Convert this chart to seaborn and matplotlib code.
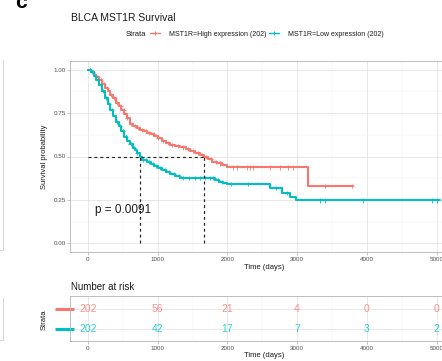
import numpy as np
import pandas as pd
import matplotlib
matplotlib.use("Agg")
import matplotlib.pyplot as plt
from matplotlib.lines import Line2D
import matplotlib.transforms as mtransforms
import seaborn as sns

# ---------------- data ----------------
groups = ["MST1R=High expression", "MST1R=Low expression"]
colors = ["#F8766D", "#00BFC4"]

high_time = [0, 40, 80, 120, 160, 200, 240, 280, 320, 360, 400, 440, 480, 520, 560,
             600, 650, 700, 750, 800, 850, 900, 950, 1000, 1060, 1120, 1180, 1250, 1320,
             1400, 1470, 1540, 1600, 1660, 1720, 1780, 1850, 1920, 1990, 3160, 3800]
high_surv = [1.0, 0.985, 0.97, 0.955, 0.94, 0.915, 0.895, 0.875, 0.855, 0.835, 0.81, 0.79,
             0.765, 0.745, 0.72, 0.688, 0.674, 0.665, 0.655, 0.645, 0.637, 0.628, 0.62, 0.605,
             0.59, 0.578, 0.568, 0.56, 0.552, 0.543, 0.532, 0.52, 0.51, 0.498, 0.483, 0.47,
             0.46, 0.45, 0.437, 0.33, 0.33]
high_censor = [30, 60, 100, 140, 190, 230, 270, 330, 380, 420, 470, 510, 560, 620, 680, 720,
               780, 830, 880, 940, 1010, 1080, 1150, 1210, 1290, 1360, 1440, 1510, 1580, 1640,
               1700, 1760, 1830, 1900, 2080, 2140, 2280, 2320, 2370, 2610, 2755, 2870, 2940,
               3400, 3790]

low_time = [0, 40, 80, 120, 160, 200, 240, 280, 320, 360, 400, 440, 480, 520, 560, 600, 640,
            680, 700, 740, 780, 850, 900, 950, 1000, 1060, 1120, 1180, 1250, 1320, 1820, 1880,
            1940, 2000, 2610, 2780, 2900, 2980, 5050]
low_surv = [1.0, 0.985, 0.965, 0.94, 0.91, 0.875, 0.835, 0.80, 0.77, 0.735, 0.70, 0.675,
            0.645, 0.615, 0.59, 0.57, 0.55, 0.535, 0.52, 0.495, 0.482, 0.467, 0.457, 0.445,
            0.432, 0.42, 0.41, 0.40, 0.39, 0.378, 0.365, 0.355, 0.345, 0.34, 0.318, 0.29,
            0.265, 0.247, 0.247]
low_censor = [30, 70, 110, 150, 210, 260, 300, 350, 420, 460, 500, 540, 610, 660, 700, 790,
              830, 880, 930, 980, 1040, 1100, 1160, 1230, 1300, 1370, 1450, 1530, 1600, 1680,
              1750, 1800, 1860, 1920, 2050, 2300, 2700, 2850, 3330, 3400, 3950, 4935, 5010]

risk_times = [0, 1000, 2000, 3000, 4000, 5000]
risk_high = [202, 56, 21, 4, 0, 0]
risk_low = [202, 42, 17, 7, 3, 2]

p_text = "p = 0.0091"
title = "BLCA MST1R Survival"

# ---------------- frames ----------------
curves = pd.concat([
    pd.DataFrame({"time": high_time, "surv": high_surv, "group": groups[0]}),
    pd.DataFrame({"time": low_time, "surv": low_surv, "group": groups[1]}),
], ignore_index=True)


def step_lookup(times, surv, pts):
    idx = np.searchsorted(np.asarray(times), np.asarray(pts), side="right") - 1
    return np.asarray(surv)[idx]


cens = pd.concat([
    pd.DataFrame({"time": high_censor, "surv": step_lookup(high_time, high_surv, high_censor),
                  "group": groups[0]}),
    pd.DataFrame({"time": low_censor, "surv": step_lookup(low_time, low_surv, low_censor),
                  "group": groups[1]}),
], ignore_index=True)

medians = []
for t, s in [(high_time, high_surv), (low_time, low_surv)]:
    s = np.asarray(s)
    medians.append(np.asarray(t)[np.argmax(s <= 0.5)])

# ---------------- style ----------------
sns.set_theme(style="white")
plt.rcParams["font.family"] = ["Liberation Sans", "DejaVu Sans"]

W, H = 442, 361
fig = plt.figure(figsize=(W / 100, H / 100), dpi=100)


def pos(l, t, w, h):
    return [l / W, 1 - (t + h) / H, w / W, h / H]


grid_major = "#DEDEDE"
grid_minor = "#EFEFEF"
border = "#B3B3B3"
tickc = "#4D4D4D"
palette = dict(zip(groups, colors))

# ---------------- main plot ----------------
ax = fig.add_axes(pos(70.4, 61, 387.2, 191))
ax.set_xlim(-252.5, 5302.5)
ax.set_ylim(-0.05, 1.05)
ax.set_xticks(risk_times)
ax.set_xticks(np.arange(500, 5300, 1000), minor=True)
ax.set_yticks([0, 0.25, 0.5, 0.75, 1.0])
ax.set_yticks([0.125, 0.375, 0.625, 0.875], minor=True)
ax.set_yticklabels(["0.00", "0.25", "0.50", "0.75", "1.00"])
ax.grid(which="major", color=grid_major, lw=0.5)
ax.grid(which="minor", color=grid_minor, lw=0.35)
ax.set_axisbelow(True)
for sp in ax.spines.values():
    sp.set_color(border)
    sp.set_linewidth(0.6)
ax.tick_params(which="major", length=2, width=0.5, color=border, labelsize=4.5,
               labelcolor=tickc, pad=1.5, bottom=True, left=True)
ax.tick_params(which="minor", length=0)

sns.lineplot(data=curves, x="time", y="surv", hue="group", palette=palette,
             estimator=None, sort=False, drawstyle="steps-post", lw=1.5,
             legend=False, ax=ax)
sns.scatterplot(data=cens, x="time", y="surv", hue="group", palette=palette,
                marker="+", s=9, linewidth=0.6, legend=False, ax=ax)

# median lines
dash = (0, (2.5, 2.5))
ax.plot([0, max(medians)], [0.5, 0.5], color="#222222", lw=0.85, ls=dash)
for m in medians:
    ax.plot([m, m], [0, 0.5], color="#222222", lw=0.85, ls=dash)

ax.text(100, 0.19, p_text, fontsize=8.5, va="center", ha="left", color="#1A1A1A")
ax.set_xlabel("Time (days)", fontsize=5.5, labelpad=1.5, color="#1A1A1A")
ax.set_ylabel("Survival probability", fontsize=5.5, labelpad=3.5, color="#1A1A1A")

# title + legend
fig.text(71 / W, 1 - 18 / H, title, fontsize=7.5, va="center", ha="left", color="#1A1A1A")
fig.text(126 / W, 1 - 34 / H, "Strata", fontsize=5.5, va="center", ha="left", color="#1A1A1A")
handles = [Line2D([], [], color=c, lw=1.0, marker="+", markersize=3, mew=0.7) for c in colors]
labels = [f"{g} ({n})" for g, n in zip(groups, [risk_high[0], risk_low[0]])]
fig.legend(handles, labels, loc="center left", bbox_to_anchor=(150 / W, 1 - 34 / H),
           ncol=2, frameon=False, fontsize=5, handlelength=1.5, handletextpad=1.2,
           columnspacing=0.4, borderpad=0, borderaxespad=0, labelcolor="#1A1A1A")

# ---------------- risk table ----------------
axr = fig.add_axes(pos(70.4, 296, 387.2, 45))
axr.set_xlim(-252.5, 5302.5)
axr.set_ylim(0.42, 2.65)
axr.set_xticks(risk_times)
axr.set_xticks(np.arange(500, 5300, 1000), minor=True)
axr.set_yticks([1, 2])
axr.set_yticklabels(["", ""])
axr.grid(which="major", color=grid_major, lw=0.5)
axr.grid(which="minor", axis="x", color=grid_minor, lw=0.35)
axr.set_axisbelow(True)
for sp in axr.spines.values():
    sp.set_color(border)
    sp.set_linewidth(0.6)
axr.tick_params(axis="x", which="major", length=2, width=0.5, color=border, labelsize=4.5,
                labelcolor=tickc, pad=1.5, bottom=True)
axr.tick_params(axis="y", length=0)
axr.tick_params(which="minor", length=0)

for row, vals, c in [(2, risk_high, colors[0]), (1, risk_low, colors[1])]:
    for t, v in zip(risk_times, vals):
        axr.text(t, row, str(v), color=c, fontsize=7.5, ha="center", va="center", alpha=0.8)
    tr = mtransforms.blended_transform_factory(axr.transAxes, axr.transData)
    axr.plot([-0.04, 0.009], [row, row], color=c, lw=2.2, transform=tr, clip_on=False,
             solid_capstyle="butt")

axr.set_xlabel("Time (days)", fontsize=5.5, labelpad=0.5, color="#1A1A1A")
fig.text(44 / W, 1 - 320 / H, "Strata", fontsize=5.5, rotation=90, va="center", ha="center",
         color="#1A1A1A")
fig.text(71 / W, 1 - 287 / H, "Number at risk", fontsize=7, va="center", ha="left",
         color="#1A1A1A")

# panel letter and neighbouring panel edges
fig.text(15 / W, 1 - 8 / H, "c", fontsize=15, fontweight="bold", va="baseline", ha="left",
         color="black")
edge = "#CFCFCF"
for (y0, y1) in [(60, 250), (298, 340)]:
    fig.add_artist(Line2D([3 / W, 3 / W], [1 - y0 / H, 1 - y1 / H], color=edge, lw=0.6,
                          transform=fig.transFigure))
    fig.add_artist(Line2D([0, 3 / W], [1 - y1 / H, 1 - y1 / H], color=edge, lw=0.6,
                          transform=fig.transFigure))

fig.savefig("out.png", dpi=100)
